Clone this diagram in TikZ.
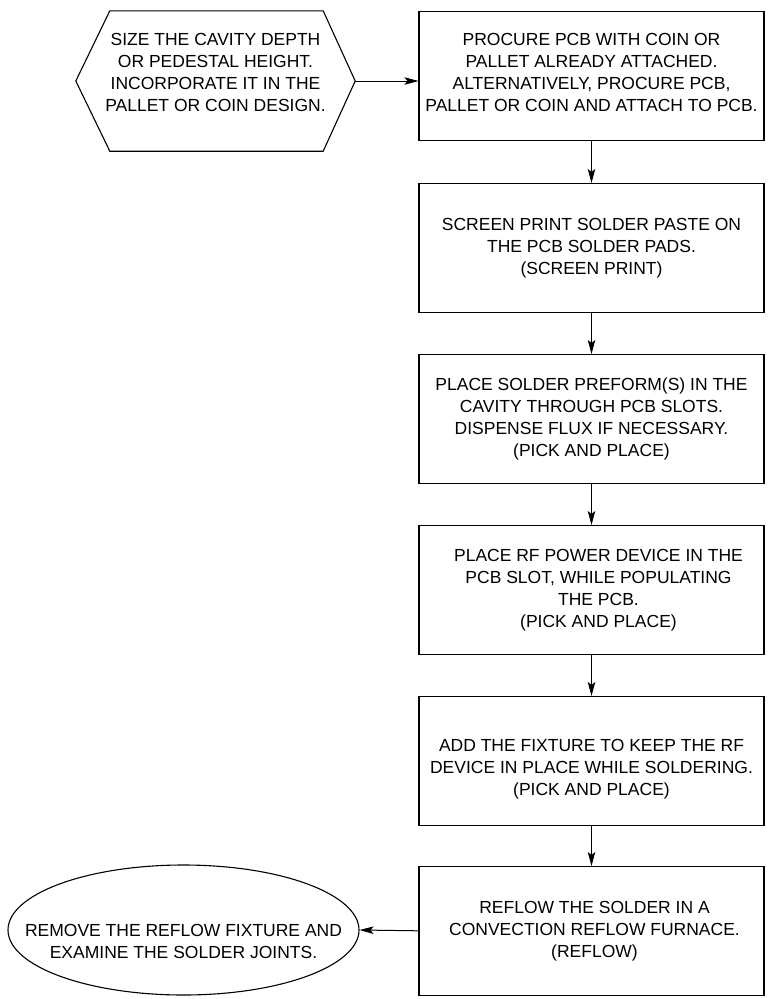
\documentclass[tikz,border=0pt]{standalone}
\usepackage{fontspec}
\setmainfont{Liberation Sans}
\usetikzlibrary{shapes.geometric,arrows.meta}
\begin{document}
\begin{tikzpicture}[x=1pt,y=-1pt,
  stepbox/.style={draw, line width=1.1pt, minimum width=345pt, minimum height=128.5pt, inner sep=0pt, anchor=north},
  txt/.style={align=center, font=\fontsize{17.5}{22}\selectfont, inner sep=0pt},
  flow/.style={line width=1pt, -{Stealth[length=14pt,width=7.5pt,inset=3pt]}}]
\useasboundingbox (0,0) rectangle (768,999);
% hexagon
\node[minimum width=279pt, minimum height=140pt, inner sep=0pt] (hex) at (215.5,81) {};
\draw[line width=1.1pt] (hex.west) -- ([xshift=34pt]hex.north west) -- ([xshift=-32pt]hex.north east) -- (hex.east) -- ([xshift=-32pt]hex.south east) -- ([xshift=34pt]hex.south west) -- cycle;
\node[txt] (hext) at (215.5,72) {SIZE THE CAVITY DEPTH\\OR PEDESTAL HEIGHT.\\INCORPORATE IT IN THE\\PALLET OR COIN DESIGN.};
% boxes
\node[stepbox] (b1) at (591.5,11) {};
\node[txt] (b1t) at (591.5,72) {PROCURE PCB WITH COIN OR\\PALLET ALREADY ATTACHED.\\ALTERNATIVELY, PROCURE PCB,\\PALLET OR COIN AND ATTACH TO PCB.};
\node[stepbox] (b2) at (591.5,183) {};
\node[txt] (b2t) at (b2.center) {SCREEN PRINT SOLDER PASTE ON\\THE PCB SOLDER PADS.\\(SCREEN PRINT)};
\node[stepbox] (b3) at (591.5,354) {};
\node[txt] (b3t) at (b3.center) {PLACE SOLDER PREFORM(S) IN THE\\CAVITY THROUGH PCB SLOTS.\\DISPENSE FLUX IF NECESSARY.\\(PICK AND PLACE)};
\node[stepbox] (b4) at (591.5,525) {};
\node[txt] (b4t) at ([xshift=7pt]b4.center) {PLACE RF POWER DEVICE IN THE\\PCB SLOT, WHILE POPULATING\\THE PCB.\\(PICK AND PLACE)};
\node[stepbox] (b5) at (591.5,696) {};
\node[txt] (b5t) at (591.5,769) {ADD THE FIXTURE TO KEEP THE RF\\DEVICE IN PLACE WHILE SOLDERING.\\(PICK AND PLACE)};
\node[stepbox] (b6) at (591.5,866) {};
\node[txt] (b6t) at ([xshift=3pt]b6.center) {REFLOW THE SOLDER IN A\\CONVECTION REFLOW FURNACE.\\(REFLOW)};
% ellipse
\node[draw, ellipse, line width=1.1pt, minimum width=351pt, minimum height=130pt, inner sep=0pt] (ell) at (183.5,930) {};
\node[txt] (ellt) at (183.5,941) {REMOVE THE REFLOW FIXTURE AND\\EXAMINE THE SOLDER JOINTS.};
% connectors
\draw[flow] (hex.east) -- (b1.west |- hex.east);
\draw[flow] (b1.south) -- (b2.north);
\draw[flow] (b2.south) -- (b3.north);
\draw[flow] (b3.south) -- (b4.north);
\draw[flow] (b4.south) -- (b5.north);
\draw[flow] (b5.south) -- (b6.north);
\draw[flow] (b6.west) -- (ell.east);
\end{tikzpicture}
\end{document}
